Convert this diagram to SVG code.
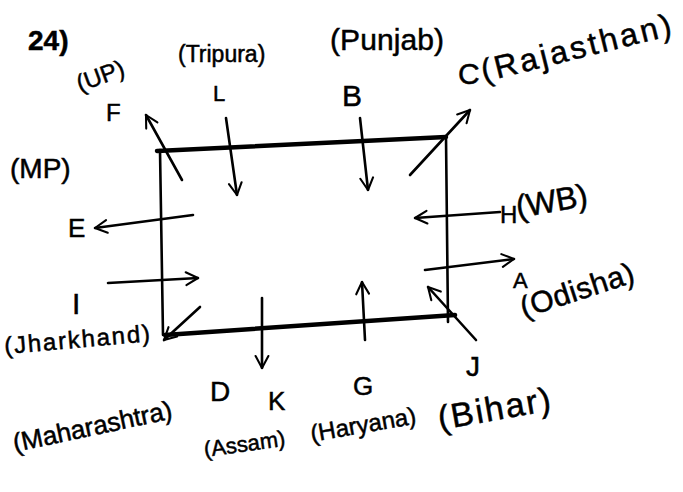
<svg xmlns="http://www.w3.org/2000/svg" width="683" height="492" viewBox="0 0 683 492">
<style>
text{font-family:"Liberation Sans",Arial,sans-serif;fill:#000;stroke:#000;stroke-width:0.5}
.edge{stroke:#000;stroke-width:2.6;fill:none;stroke-linecap:round}
.thick{stroke:#000;stroke-width:4.5;fill:none;stroke-linecap:round}
.arr{stroke:#000;stroke-width:2.6;fill:none;stroke-linecap:round;marker-end:url(#v)}
</style>
<defs>
<marker id="v" viewBox="0 0 20 20" refX="18" refY="10" markerWidth="16" markerHeight="16" markerUnits="userSpaceOnUse" orient="auto">
<path d="M3,2 L18,10 L3,18" fill="none" stroke="#000" stroke-width="2.6" stroke-linecap="round" stroke-linejoin="round"/>
</marker>
</defs>
<rect width="683" height="492" fill="#fff"/>
<g id="title"><text x="28" y="50" font-size="28" font-weight="bold">24)</text></g>
<g id="box">
<path class="thick" d="M157,151 L446,137"/>
<path class="edge" d="M446,137 L448,322"/>
<path class="thick" d="M165,335 L455,315"/>
<path class="edge" d="M160,150 L163,335"/>
</g>
<g id="connectors">
<path class="arr" d="M182,180 L146,115"/>
<path class="arr" d="M410,175 L470,110"/>
<path class="arr" d="M226,118 L237,195"/>
<path class="arr" d="M360,118 L368,190"/>
<path class="arr" d="M193,215 L95,228"/>
<path class="arr" d="M500,212 L415,218"/>
<path class="arr" d="M425,270 L514,259"/>
<path class="arr" d="M108,283 L198,278"/>
<path class="arr" d="M200,307 L164,340"/>
<path class="arr" d="M262,298 L262,368"/>
<path class="arr" d="M365,340 L362,282"/>
<path class="arr" d="M476,340 L428,287"/>
</g>
<g id="F"><text x="80" y="92" font-size="24" transform="rotate(-20 80 92)">(UP)</text><text x="106" y="121" font-size="24">F</text></g>
<g id="L"><text x="178" y="62" font-size="23">(Tripura)</text><text x="213" y="101" font-size="22">L</text></g>
<g id="B"><text x="330" y="50" font-size="30" textLength="114">(Punjab)</text><text x="342" y="106" font-size="30">B</text></g>
<g id="C"><text x="458" y="84" font-size="30">C</text><text x="484" y="82" font-size="32" textLength="195" transform="rotate(-14 484 82)">(Rajasthan)</text></g>
<g id="E"><text x="10" y="178" font-size="28">(MP)</text><text x="68" y="237" font-size="26">E</text></g>
<g id="H"><text x="500" y="223" font-size="24">H</text><text x="518" y="218" font-size="32" textLength="72" transform="rotate(-10 518 218)">(WB)</text></g>
<g id="A"><text x="513" y="288" font-size="22">A</text><text x="524" y="318" font-size="30" textLength="118" transform="rotate(-18 524 318)">(Odisha)</text></g>
<g id="I"><text x="72" y="314" font-size="30">I</text><text x="5" y="354" font-size="24" textLength="146" transform="rotate(-5 5 354)">(Jharkhand)</text></g>
<g id="D"><text x="210" y="401" font-size="28">D</text><text x="15" y="452" font-size="26" textLength="162" transform="rotate(-12 15 452)">(Maharashtra)</text></g>
<g id="K"><text x="268" y="410" font-size="26">K</text><text x="205" y="457" font-size="22" transform="rotate(-8 205 457)">(Assam)</text></g>
<g id="G"><text x="353" y="395" font-size="26">G</text><text x="312" y="442" font-size="24" transform="rotate(-10 312 442)">(Haryana)</text></g>
<g id="J"><text x="466" y="376" font-size="28">J</text><text x="440" y="430" font-size="34" textLength="114" transform="rotate(-10 440 430)">(Bihar)</text></g>
</svg>
